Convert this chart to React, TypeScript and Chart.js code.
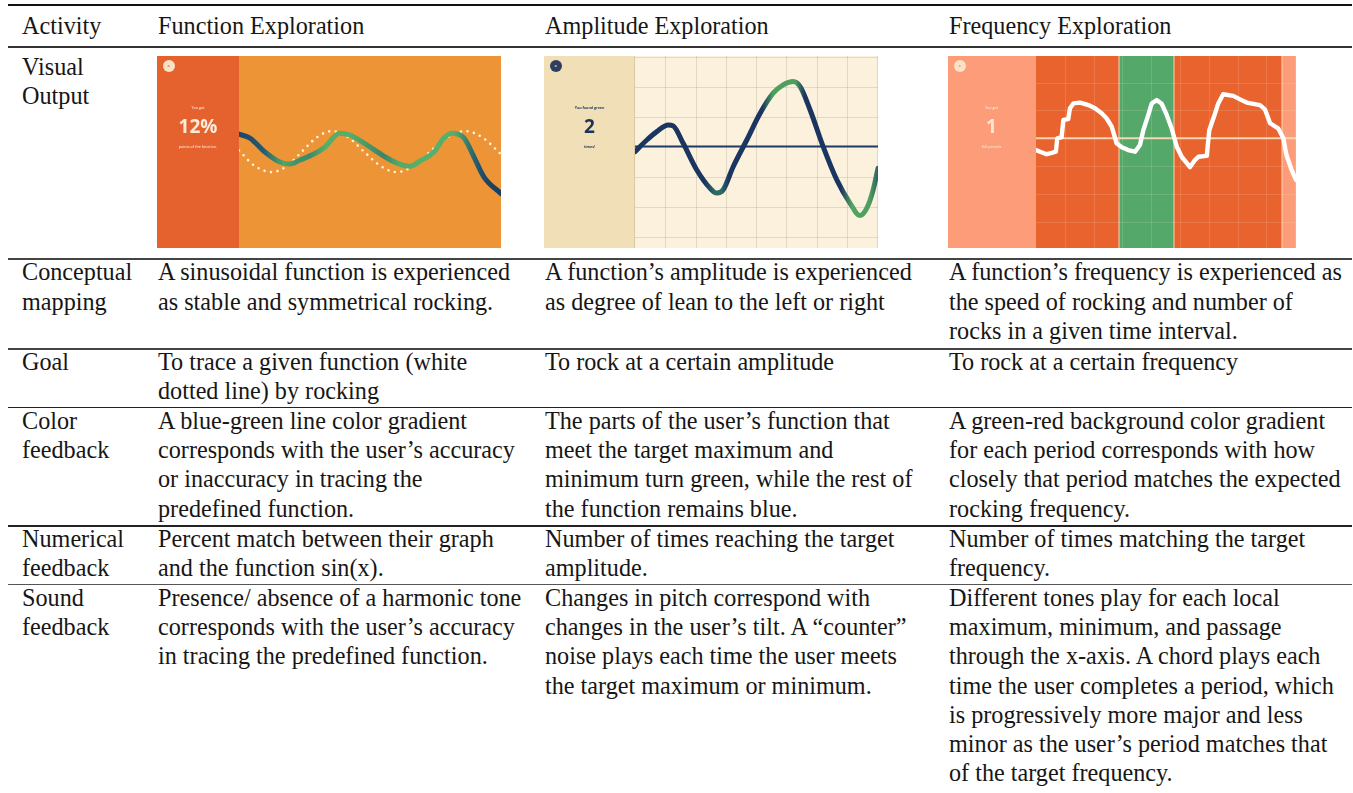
import React, { useEffect, useRef } from 'react';
import { Chart, registerables } from 'chart.js';

Chart.register(...registerables);

// ---------------- Table text ----------------
const activityHeaders = ['Activity', 'Function Exploration', 'Amplitude Exploration', 'Frequency Exploration'];
const rowLabels = [
  ['Visual', 'Output'],
  ['Conceptual', 'mapping'],
  ['Goal'],
  ['Color', 'feedback'],
  ['Numerical', 'feedback'],
  ['Sound', 'feedback'],
];
const conceptualMapping = [
  ['A sinusoidal function is experienced', 'as stable and symmetrical rocking.'],
  ['A function’s amplitude is experienced', 'as degree of lean to the left or right'],
  ['A function’s frequency is experienced as', 'the speed of rocking and number of', 'rocks in a given time interval.'],
];
const goals = [
  ['To trace a given function (white', 'dotted line) by rocking'],
  ['To rock at a certain amplitude'],
  ['To rock at a certain frequency'],
];
const colorFeedback = [
  ['A blue-green line color gradient', 'corresponds with the user’s accuracy', 'or inaccuracy in tracing the', 'predefined function.'],
  ['The parts of the user’s function that', 'meet the target maximum and', 'minimum turn green, while the rest of', 'the function remains blue.'],
  ['A green-red background color gradient', 'for each period corresponds with how', 'closely that period matches the expected', 'rocking frequency.'],
];
const numericalFeedback = [
  ['Percent match between their graph', 'and the function sin(x).'],
  ['Number of times reaching the target', 'amplitude.'],
  ['Number of times matching the target', 'frequency.'],
];
const soundFeedback = [
  ['Presence/ absence of a harmonic tone', 'corresponds with the user’s accuracy', 'in tracing the predefined function.'],
  ['Changes in pitch correspond with', 'changes in the user’s tilt. A “counter”', 'noise plays each time the user meets', 'the target maximum or minimum.'],
  ['Different tones play for each local', 'maximum, minimum, and passage', 'through the x-axis. A chord plays each', 'time the user completes a period, which', 'is progressively more major and less', 'minor as the user’s period matches that', 'of the target frequency.'],
];

// ---------------- Function exploration data ----------------
const fnTargetT = [0, 6, 12.6, 18.3, 24, 29.8, 35.5, 41.6, 47.7, 54, 60.3, 66.6, 73, 79.6, 86.3, 92.8, 99.6];
const fnTargetY = [0.05, -0.7, -1, -0.7, 0, 0.7, 1, 0.7, 0, -0.7, -1, -0.7, 0, 0.7, 1, 0.7, -0.08];
const fnUserT = [0, 4.2, 9.9, 15.6, 19.5, 23.3, 28.6, 32.4, 38.5, 42.4, 47.7, 55.3, 60.3, 65.3, 69.1, 74.4, 78.2, 81.3, 85.9, 89.7, 93.5, 100];
const fnUserY = [0.85, 0.66, -0.02, -0.51, -0.61, -0.41, -0.12, 0.17, 0.9, 0.8, 0.41, -0.22, -0.56, -0.71, -0.46, -0.02, 0.66, 0.9, 0.66, -0.27, -1.24, -2.05];
const fnAccuracyT = [0, 9, 17, 22, 27, 33, 42, 48, 55, 61, 70, 82, 86, 90, 94, 100];
const fnAccuracyColor = ['#1C466A', '#245A6E', '#4DA866', '#41916B', '#3D8B6A', '#55AE69', '#56AF69', '#4A9C68', '#3B8469', '#52AA68', '#56B06A', '#57B06A', '#3E8A6A', '#28606E', '#1C476A', '#173F63'];
const fnScore = '12%';

// ---------------- Amplitude exploration data ----------------
const ampX = [0, 0.39, 0.72, 1.1, 1.26, 1.59, 2.04, 2.48, 2.7, 2.91, 3.24, 3.69, 4.13, 4.56, 4.89, 5.22, 5.45, 5.78, 6.21, 6.66, 7.1, 7.42, 7.65, 7.86, 8.02];
const ampY = [-0.17, 0.22, 0.5, 0.72, 0.69, 0.11, -0.78, -1.39, -1.55, -1.44, -0.67, 0.22, 1.11, 1.78, 2.06, 2.17, 2.0, 1.22, 0, -1.11, -1.89, -2.3, -2.05, -1.44, -0.72];
const ampColorX = [0, 2.3, 2.62, 2.85, 3.1, 4.2, 4.55, 5.3, 5.6, 6.8, 7.15, 7.75, 8.02];
const ampColor = ['#1A3560', '#1A3560', '#2C6A66', '#2C6A66', '#1A3560', '#1A3560', '#4E9E5E', '#4E9E5E', '#1A3560', '#1A3560', '#52A463', '#4F9F60', '#2D5E62'];
const ampCount = '2';

// ---------------- Frequency exploration data ----------------
const freqX = [0, 0.14, 0.37, 0.55, 0.69, 0.74, 0.89, 0.95, 1.12, 1.18, 1.3, 1.53, 1.82, 2.05, 2.28, 2.45, 2.63, 2.8, 2.98, 3.2, 3.44, 3.61, 3.73, 3.9, 4.02, 4.19, 4.36, 4.54, 4.71, 4.89, 5.06, 5.35, 5.52, 5.64, 5.93, 6.02, 6.18, 6.33, 6.5, 6.85, 7.14, 7.32, 7.78, 7.95, 8.13, 8.41, 8.59, 8.7, 8.88, 9.03];
const freqY = [-0.42, -0.48, -0.57, -0.52, -0.48, 0, 0.04, 0.66, 0.69, 1.08, 1.25, 1.28, 1.19, 1.08, 0.9, 0.72, 0.42, -0.18, -0.32, -0.42, -0.48, -0.24, 0.3, 0.84, 1.25, 1.37, 1.25, 0.84, 0.36, -0.3, -0.66, -1.03, -0.78, -0.66, -0.63, 0.3, 0.77, 1.25, 1.58, 1.52, 1.37, 1.28, 1.19, 1.04, 0.54, 0.36, 0, -0.6, -1.14, -1.49];
const periodBounds = [0, 2.88, 4.79, 8.54];
const periodColors = ['#E8632E', '#53A86A', '#E8632E'];
const freqCount = '1';

// ---------------- Styling ----------------
const SERIF = '"Liberation Serif", "Times New Roman", serif';
const SANS = '"Open Sans", "Noto Sans", sans-serif';
const FONT_SIZE = 24.2;
const LINE_H = 29.25;
const colX = [22, 158, 545, 949];
const rowTops = [11.4, 52.1, 257.4, 347.0, 405.9, 524.2, 582.8];
const rules = [
  { y: 4.2, h: 2.2, c: '#111' },
  { y: 46.2, h: 1.6, c: '#333' },
  { y: 258.4, h: 1.5, c: '#444' },
  { y: 348.2, h: 1.5, c: '#444' },
  { y: 406.5, h: 1.5, c: '#222' },
  { y: 525, h: 1.5, c: '#222' },
  { y: 583.6, h: 1.5, c: '#555' },
];

const pts = (xs: number[], ys: number[]) => xs.map((x, i) => ({ x, y: ys[i] }));

function hGradient(chart: any, stops: number[], colors: string[]) {
  const ca = chart.chartArea;
  const sx = chart.scales && chart.scales.x;
  if (!ca || !sx) return colors[0];
  const x0 = sx.getPixelForValue(sx.min);
  const x1 = sx.getPixelForValue(sx.max);
  const g = chart.ctx.createLinearGradient(x0, 0, x1, 0);
  stops.forEach((v, i) => {
    const f = Math.min(1, Math.max(0, (sx.getPixelForValue(v) - x0) / (x1 - x0)));
    g.addColorStop(f, colors[i]);
  });
  return g;
}

function drawGrid(chart: any, color: string, xFrom: number, xTo: number) {
  const { ctx, chartArea: ca, scales } = chart;
  const sx = scales.x, sy = scales.y;
  ctx.save();
  ctx.strokeStyle = color;
  ctx.lineWidth = 1;
  for (let v = Math.ceil(sx.min); v <= Math.floor(sx.max); v++) {
    if (v === 0) continue;
    const p = Math.round(sx.getPixelForValue(v)) + 0.5;
    ctx.beginPath(); ctx.moveTo(p, ca.top); ctx.lineTo(p, ca.bottom); ctx.stroke();
  }
  for (let v = Math.ceil(sy.min); v <= Math.floor(sy.max); v++) {
    if (v === 0) continue;
    const p = Math.round(sy.getPixelForValue(v)) + 0.5;
    ctx.beginPath(); ctx.moveTo(xFrom, p); ctx.lineTo(xTo, p); ctx.stroke();
  }
  ctx.restore();
}

function drawZeroLine(chart: any, color: string, w: number, xTo: number) {
  const { ctx, chartArea: ca, scales } = chart;
  const p = scales.y.getPixelForValue(0);
  ctx.save();
  ctx.strokeStyle = color;
  ctx.lineWidth = w;
  ctx.beginPath(); ctx.moveTo(ca.left, p); ctx.lineTo(xTo, p); ctx.stroke();
  ctx.restore();
}

const baseOptions = (padLeft: number, xMax: number, yMin: number, yMax: number) => ({
  animation: false as const,
  responsive: false,
  events: [] as any[],
  layout: { padding: { left: padLeft, right: 0, top: 0, bottom: 0 } },
  plugins: { legend: { display: false }, tooltip: { enabled: false } },
  elements: { point: { radius: 0 } },
  scales: {
    x: { type: 'linear' as const, display: false, min: 0, max: xMax },
    y: { type: 'linear' as const, display: false, min: yMin, max: yMax },
  },
});

function functionConfig(): any {
  return {
    type: 'line',
    data: {
      datasets: [
        {
          data: pts(fnUserT, fnUserY),
          borderColor: (c: any) => hGradient(c.chart, fnAccuracyT, fnAccuracyColor),
          borderWidth: 5,
          borderCapStyle: 'round',
          borderJoinStyle: 'round',
          cubicInterpolationMode: 'monotone',
          fill: false,
        },
        {
          data: pts(fnTargetT, fnTargetY),
          borderColor: '#FFF4E2',
          borderWidth: 2.6,
          borderDash: [0, 6.6],
          borderCapStyle: 'round',
          cubicInterpolationMode: 'monotone',
          fill: false,
        },
      ],
    },
    options: baseOptions(82, 100, -4.7, 4.66),
    plugins: [
      {
        id: 'fnBg',
        beforeDraw(chart: any) {
          const { ctx, chartArea: ca, width, height } = chart;
          ctx.save();
          ctx.fillStyle = '#E5622F';
          ctx.fillRect(0, 0, ca.left, height);
          ctx.fillStyle = '#EC9436';
          ctx.fillRect(ca.left, 0, width - ca.left, height);
          ctx.restore();
        },
      },
    ],
  };
}

function amplitudeConfig(): any {
  return {
    type: 'line',
    data: {
      datasets: [
        {
          data: pts(ampX, ampY),
          borderColor: (c: any) => hGradient(c.chart, ampColorX, ampColor),
          borderWidth: 5,
          borderCapStyle: 'round',
          borderJoinStyle: 'round',
          cubicInterpolationMode: 'monotone',
          fill: false,
        },
      ],
    },
    options: baseOptions(91, 8.02, -3.38, 3.02),
    plugins: [
      {
        id: 'ampBg',
        beforeDraw(chart: any) {
          const { ctx, chartArea: ca, width, height } = chart;
          ctx.save();
          ctx.fillStyle = '#F1DFB8';
          ctx.fillRect(0, 0, ca.left, height);
          ctx.fillStyle = '#FBF1DC';
          ctx.fillRect(ca.left, 0, width - ca.left, height);
          ctx.fillStyle = 'rgba(180,160,120,0.35)';
          ctx.fillRect(ca.left - 1, 0, 1, height);
          ctx.restore();
        },
        beforeDatasetsDraw(chart: any) {
          drawGrid(chart, 'rgba(150,140,120,0.24)', chart.chartArea.left, chart.chartArea.right);
          drawZeroLine(chart, '#1D3A64', 2, chart.chartArea.right);
        },
      },
    ],
  };
}

function frequencyConfig(): any {
  return {
    type: 'line',
    data: {
      datasets: [
        {
          data: pts(freqX, freqY),
          borderColor: '#FFFFFF',
          borderWidth: 4.4,
          borderJoinStyle: 'round',
          borderCapStyle: 'round',
          tension: 0,
          fill: false,
        },
      ],
    },
    options: baseOptions(88, 9.03, -3.93, 2.95),
    plugins: [
      {
        id: 'freqBg',
        beforeDraw(chart: any) {
          const { ctx, chartArea: ca, width, height, scales } = chart;
          ctx.save();
          ctx.fillStyle = '#FD9C78';
          ctx.fillRect(0, 0, width, height);
          for (let i = 0; i < periodColors.length; i++) {
            const a = scales.x.getPixelForValue(periodBounds[i]);
            const b = scales.x.getPixelForValue(periodBounds[i + 1]);
            ctx.fillStyle = periodColors[i];
            ctx.fillRect(a, ca.top, b - a, ca.bottom - ca.top);
          }
          ctx.restore();
        },
        beforeDatasetsDraw(chart: any) {
          const { ctx, chartArea: ca, scales, width } = chart;
          drawGrid(chart, 'rgba(255,235,210,0.16)', ca.left, width);
          ctx.save();
          ctx.fillStyle = 'rgba(255,225,200,0.7)';
          for (let i = 1; i < periodBounds.length; i++) {
            const p = scales.x.getPixelForValue(periodBounds[i]);
            ctx.fillRect(p - 0.5, ca.top, 1.2, ca.bottom - ca.top);
          }
          ctx.restore();
          drawZeroLine(chart, '#F6D6B2', 2, width);
        },
      },
    ],
  };
}

type PanelText = {
  small1: string;
  big: string;
  small2: string;
  color: string;
  bigColor: string;
  circle: string;
  circleX: string;
  weightSmall: number;
};

function MiniChart(props: {
  left: number; top: number; width: number; height: number; panel: number;
  config: () => any; text: PanelText;
}) {
  const ref = useRef<HTMLCanvasElement>(null);
  useEffect(() => {
    const chart = new Chart(ref.current as HTMLCanvasElement, props.config());
    return () => chart.destroy();
  }, []);
  const { left, top, width, height, panel, text } = props;
  const small = (y: number, s: string, size: number) => (
    <div style={{ position: 'absolute', left: 0, width: panel, top: y - size * 0.6, textAlign: 'center', fontFamily: SANS, fontSize: size, lineHeight: `${size * 1.2}px`, color: text.color, fontWeight: text.weightSmall, whiteSpace: 'nowrap' }}>{s}</div>
  );
  return (
    <div style={{ position: 'absolute', left, top, width, height, overflow: 'hidden' }}>
      <canvas ref={ref} width={width} height={height} style={{ display: 'block', width, height }} />
      <div style={{ position: 'absolute', left: 5.5, top: 3.5, width: 12.5, height: 12.5, borderRadius: '50%', background: text.circle, color: text.circleX, fontFamily: SANS, fontSize: 4, lineHeight: '12.5px', textAlign: 'center', fontWeight: 700 }}>x</div>
      {small(52, text.small1, 3.6)}
      <div style={{ position: 'absolute', left: 0, width: panel, top: 71 - 0.53 * 19, textAlign: 'center', fontFamily: SANS, fontSize: 19, lineHeight: '19px', color: text.bigColor, fontWeight: 700, whiteSpace: 'nowrap' }}>{text.big}</div>
      {small(91, text.small2, 3.6)}
    </div>
  );
}

function Cell({ x, y, lines }: { x: number; y: number; lines: string[] }) {
  return (
    <div style={{ position: 'absolute', left: x, top: y, fontFamily: SERIF, fontSize: FONT_SIZE, lineHeight: `${LINE_H}px`, color: '#161616', whiteSpace: 'nowrap' }}>
      {lines.map((l, i) => <div key={i}>{l}</div>)}
    </div>
  );
}

export default function App() {
  const bodyRows = [null, conceptualMapping, goals, colorFeedback, numericalFeedback, soundFeedback];
  return (
    <div style={{ position: 'absolute', left: 0, top: 0, width: 1353, height: 793, overflow: 'hidden', background: '#fff' }}>
      {rules.map((r, i) => (
        <div key={i} style={{ position: 'absolute', left: 8, width: 1344, top: r.y, height: r.h, background: r.c }} />
      ))}
      {activityHeaders.map((h, i) => <Cell key={'h' + i} x={colX[i]} y={rowTops[0]} lines={[h]} />)}
      {rowLabels.map((lab, r) => (
        <React.Fragment key={'r' + r}>
          <Cell x={colX[0]} y={rowTops[r + 1]} lines={lab} />
          {bodyRows[r] && (bodyRows[r] as string[][]).map((cell, c) => (
            <Cell key={c} x={colX[c + 1]} y={rowTops[r + 1]} lines={cell} />
          ))}
        </React.Fragment>
      ))}
      <MiniChart left={157} top={56} width={344} height={192} panel={82} config={functionConfig}
        text={{ small1: 'You got', big: fnScore, small2: 'points of the function.', color: '#F9DCC6', bigColor: '#FCEBD8', circle: '#F7E3C3', circleX: '#E07A45', weightSmall: 600 }} />
      <MiniChart left={544} top={56} width={334} height={192} panel={91} config={amplitudeConfig}
        text={{ small1: 'You found green', big: ampCount, small2: 'times!', color: '#2A3B5A', bigColor: '#1E3359', circle: '#2C3F5E', circleX: '#E8D9B8', weightSmall: 700 }} />
      <MiniChart left={948} top={56} width={348} height={192} panel={87} config={frequencyConfig}
        text={{ small1: 'You got', big: freqCount, small2: 'full periods', color: '#FDE2CE', bigColor: '#FEE6D6', circle: '#F8E3C4', circleX: '#E89A70', weightSmall: 600 }} />
    </div>
  );
}
